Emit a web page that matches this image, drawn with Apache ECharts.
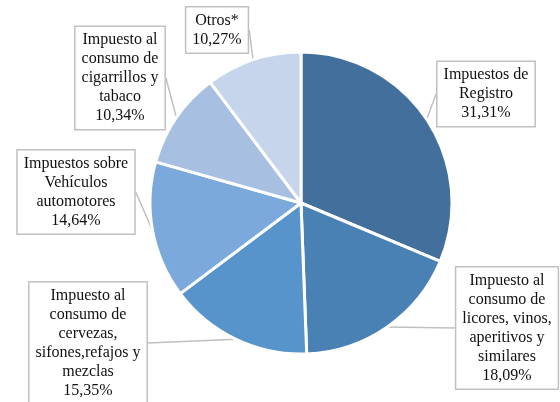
<!DOCTYPE html>
<html>
<head>
<meta charset="utf-8">
<script src="https://cdn.jsdelivr.net/npm/echarts@6/dist/echarts.min.js"></script>
<style>html,body{margin:0;padding:0;background:#fff}#c{width:560px;height:402px}</style>
</head>
<body>
<div id="c"></div>
<script>
const categories = [
  'Impuestos de\nRegistro',
  'Impuesto al\nconsumo de\nlicores, vinos,\naperitivos y\nsimilares',
  'Impuesto al\nconsumo de\ncervezas,\nsifones,refajos y\nmezclas',
  'Impuestos sobre\nVehículos\nautomotores',
  'Impuesto al\nconsumo de\ncigarrillos y\ntabaco',
  'Otros*'
];
const values = [31.31, 18.09, 15.35, 14.64, 10.34, 10.27];
const colors = ['#426f9b', '#4a81b5', '#5894cc', '#7ba9db', '#a7c0e2', '#c6d5eb'];
const labelPos = [[486, 94], [507, 328], [88, 343], [76, 192], [120, 78], [217, 30]];

const chart = echarts.init(document.getElementById('c'), null, {renderer: 'canvas'});
chart.setOption({
  animation: false,
  series: [{
    type: 'pie',
    center: [301, 203],
    radius: 151,
    startAngle: 90,
    clockwise: true,
    data: categories.map((n, i) => ({name: n, value: values[i], itemStyle: {color: colors[i]}})),
    itemStyle: {borderColor: '#fff', borderWidth: 3},
    label: {
      show: true,
      position: 'outside',
      formatter: p => p.name + '\n' + p.value.toFixed(2).replace('.', ',') + '%',
      fontFamily: '"Liberation Serif", "Times New Roman", serif',
      fontSize: 16,
      lineHeight: 19,
      color: '#111',
      align: 'center',
      backgroundColor: '#fff',
      borderColor: '#c0c0c0',
      borderWidth: 1.5,
      padding: [4, 6, 3, 6]
    },
    labelLine: {show: true, lineStyle: {color: '#c0c0c0', width: 1.5}, length: 10, length2: 0},
    labelLayout: p => ({
      x: labelPos[p.dataIndex][0],
      y: labelPos[p.dataIndex][1],
      align: 'center',
      verticalAlign: 'middle'
    }),
    emphasis: {disabled: true}
  }]
});
</script>
</body>
</html>
